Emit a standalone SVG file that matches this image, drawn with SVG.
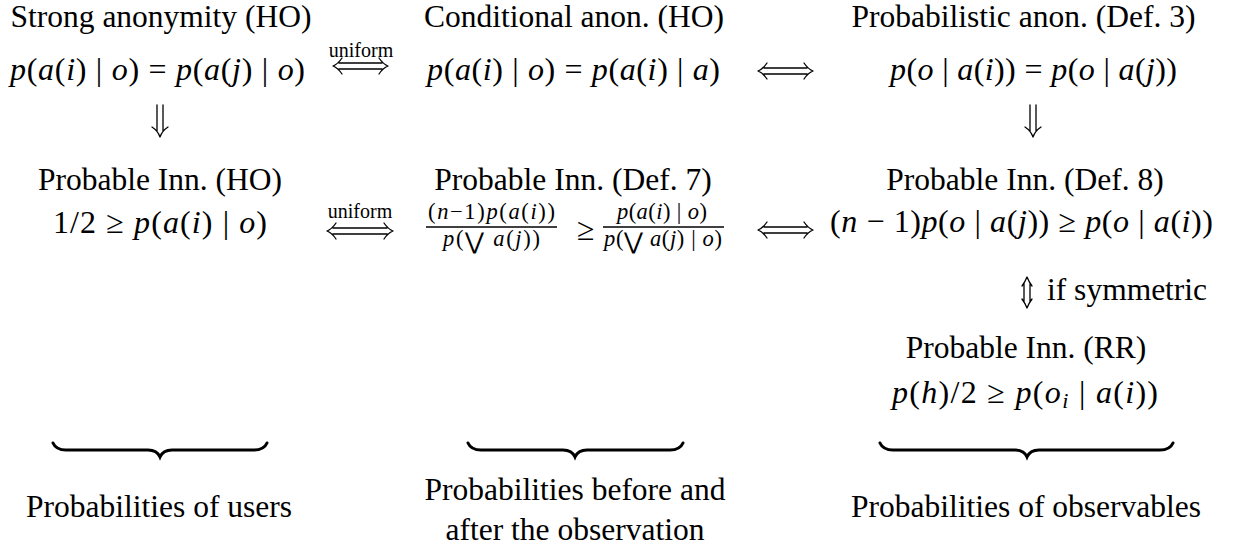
<svg xmlns="http://www.w3.org/2000/svg" width="1245" height="554" viewBox="0 0 1245 554" font-family="'Liberation Serif', serif">
<style>
text{font-family:'Liberation Serif','Times New Roman',serif;fill:#000}
.t{font-size:31.5px;text-anchor:middle}
.m{font-size:32px}
.f{font-size:22.5px}
.i{font-style:italic}
.s{font-family:'DejaVu Serif',serif}
.lab{font-size:20px;text-anchor:middle}
.ar{fill:none;stroke:#000;stroke-width:1.3;stroke-linecap:round;stroke-linejoin:round}
.br{fill:none;stroke:#000;stroke-width:3;stroke-linecap:round}
.bar{stroke:#000;stroke-width:1.4}
</style>
<rect width="1245" height="554" fill="#fff"/>
<g id="strong">
<text class="t" x="161" y="27">Strong anonymity (HO)</text>
<text class="m" x="10" y="80" textLength="295" lengthAdjust="spacing"><tspan class="i">p</tspan>(<tspan class="i">a</tspan>(<tspan class="i">i</tspan>) | <tspan class="i">o</tspan>) = <tspan class="i">p</tspan>(<tspan class="i">a</tspan>(<tspan class="i">j</tspan>) | <tspan class="i">o</tspan>)</text>
</g>
<g id="conditional">
<text class="t" x="574" y="27">Conditional anon. (HO)</text>
<text class="m" x="427" y="80" textLength="293" lengthAdjust="spacing"><tspan class="i">p</tspan>(<tspan class="i">a</tspan>(<tspan class="i">i</tspan>) | <tspan class="i">o</tspan>) = <tspan class="i">p</tspan>(<tspan class="i">a</tspan>(<tspan class="i">i</tspan>) | <tspan class="i">a</tspan>)</text>
</g>
<g id="probabilistic">
<text class="t" x="1023.5" y="27">Probabilistic anon. (Def. 3)</text>
<text class="m" x="890" y="80" textLength="287" lengthAdjust="spacing"><tspan class="i">p</tspan>(<tspan class="i">o</tspan> | <tspan class="i">a</tspan>(<tspan class="i">i</tspan>)) = <tspan class="i">p</tspan>(<tspan class="i">o</tspan> | <tspan class="i">a</tspan>(<tspan class="i">j</tspan>))</text>
</g>
<g id="inn-ho">
<text class="t" x="160" y="190">Probable Inn. (HO)</text>
<text class="m" x="53" y="233" textLength="214" lengthAdjust="spacing">1/2 ≥ <tspan class="i">p</tspan>(<tspan class="i">a</tspan>(<tspan class="i">i</tspan>) | <tspan class="i">o</tspan>)</text>
</g>
<g id="inn-def7">
<text class="t" x="573" y="190">Probable Inn. (Def. 7)</text>
<text class="f" x="428" y="219" textLength="127" lengthAdjust="spacing">(<tspan class="i">n</tspan>−1)<tspan class="i">p</tspan>(<tspan class="i">a</tspan>(<tspan class="i">i</tspan>))</text>
<line class="bar" x1="426" y1="227" x2="557" y2="227"/>
<text class="f" x="443" y="246" textLength="97" lengthAdjust="spacing"><tspan class="i">p</tspan>(<tspan class="s" font-size="23" dy="3">⋁</tspan><tspan dy="-3"> </tspan><tspan class="i">a</tspan>(<tspan class="i">j</tspan>))</text>
<text class="m" x="577" y="240">≥</text>
<text class="f" x="617" y="219" textLength="90" lengthAdjust="spacing"><tspan class="i">p</tspan>(<tspan class="i">a</tspan>(<tspan class="i">i</tspan>) | <tspan class="i">o</tspan>)</text>
<line class="bar" x1="603" y1="227" x2="724" y2="227"/>
<text class="f" x="604" y="246" textLength="118" lengthAdjust="spacing"><tspan class="i">p</tspan>(<tspan class="s" font-size="23" dy="3">⋁</tspan><tspan dy="-3"> </tspan><tspan class="i">a</tspan>(<tspan class="i">j</tspan>) | <tspan class="i">o</tspan>)</text>
</g>
<g id="inn-def8">
<text class="t" x="1025" y="190">Probable Inn. (Def. 8)</text>
<text class="m" x="830" y="232" textLength="383" lengthAdjust="spacing">(<tspan class="i">n</tspan> − 1)<tspan class="i">p</tspan>(<tspan class="i">o</tspan> | <tspan class="i">a</tspan>(<tspan class="i">j</tspan>)) ≥ <tspan class="i">p</tspan>(<tspan class="i">o</tspan> | <tspan class="i">a</tspan>(<tspan class="i">i</tspan>))</text>
</g>
<g id="inn-rr">
<text class="t" x="1026" y="358">Probable Inn. (RR)</text>
<text class="m" x="892" y="403" textLength="266" lengthAdjust="spacing"><tspan class="i">p</tspan>(<tspan class="i">h</tspan>)/2 ≥ <tspan class="i">p</tspan>(<tspan class="i">o</tspan><tspan class="i" font-size="22" dy="5">i</tspan><tspan dy="-5"> | </tspan><tspan class="i">a</tspan>(<tspan class="i">i</tspan>))</text>
</g>
<g id="group-users">
<path class="br" d="M53,443 Q56,450 66,450 L148,450 Q157,450 160,457 Q163,450 172,450 L254,450 Q264,450 267,443"/>
<text class="t" x="159" y="517">Probabilities of users</text>
</g>
<g id="group-before-after">
<path class="br" d="M468,443 Q471,450 481,450 L563,450 Q572,450 575,457 Q578,450 587,450 L670,450 Q680,450 683,443"/>
<text class="t" x="575" y="500">Probabilities before and</text>
<text class="t" x="575" y="540">after the observation</text>
</g>
<g id="group-observables">
<path class="br" d="M880,443 Q883,450 893,450 L1015,450 Q1024,450 1027,457 Q1030,450 1039,450 L1160,450 Q1170,450 1173,443"/>
<text class="t" x="1026" y="517">Probabilities of observables</text>
</g>
<g id="connectors">
<path class="ar" d="M339,63 H382 M339,69 H382 M342,58 Q338,64 333,66 Q338,68 342,74 M379,58 Q383,64 388,66 Q383,68 379,74"/>
<text class="lab" x="361" y="57">uniform</text>
<path class="ar" d="M764,68 H807 M764,74 H807 M767,63 Q763,69 758,71 Q763,73 767,79 M804,63 Q808,69 813,71 Q808,73 804,79"/>
<path class="ar" d="M157,105 V131 M163,105 V131 M152,127 Q158,131 160,137 Q162,131 168,127"/>
<path class="ar" d="M1030,105 V131 M1036,105 V131 M1025,127 Q1031,131 1033,137 Q1035,131 1041,127"/>
<path class="ar" d="M333,228 H387 M333,234 H387 M336,223 Q332,229 327,231 Q332,233 336,239 M384,223 Q388,229 393,231 Q388,233 384,239"/>
<text class="lab" x="360" y="218">uniform</text>
<path class="ar" d="M764,227 H807 M764,233 H807 M767,222 Q763,228 758,230 Q763,232 767,238 M804,222 Q808,228 813,230 Q808,232 804,238"/>
<path class="ar" d="M1024,283 V302 M1030,283 V302 M1022,286 Q1025,282 1027,277 Q1029,282 1032,286 M1022,299 Q1025,303 1027,308 Q1029,303 1032,299"/>
<text class="t" x="1047" y="300" style="text-anchor:start">if symmetric</text>
</g>
</svg>
